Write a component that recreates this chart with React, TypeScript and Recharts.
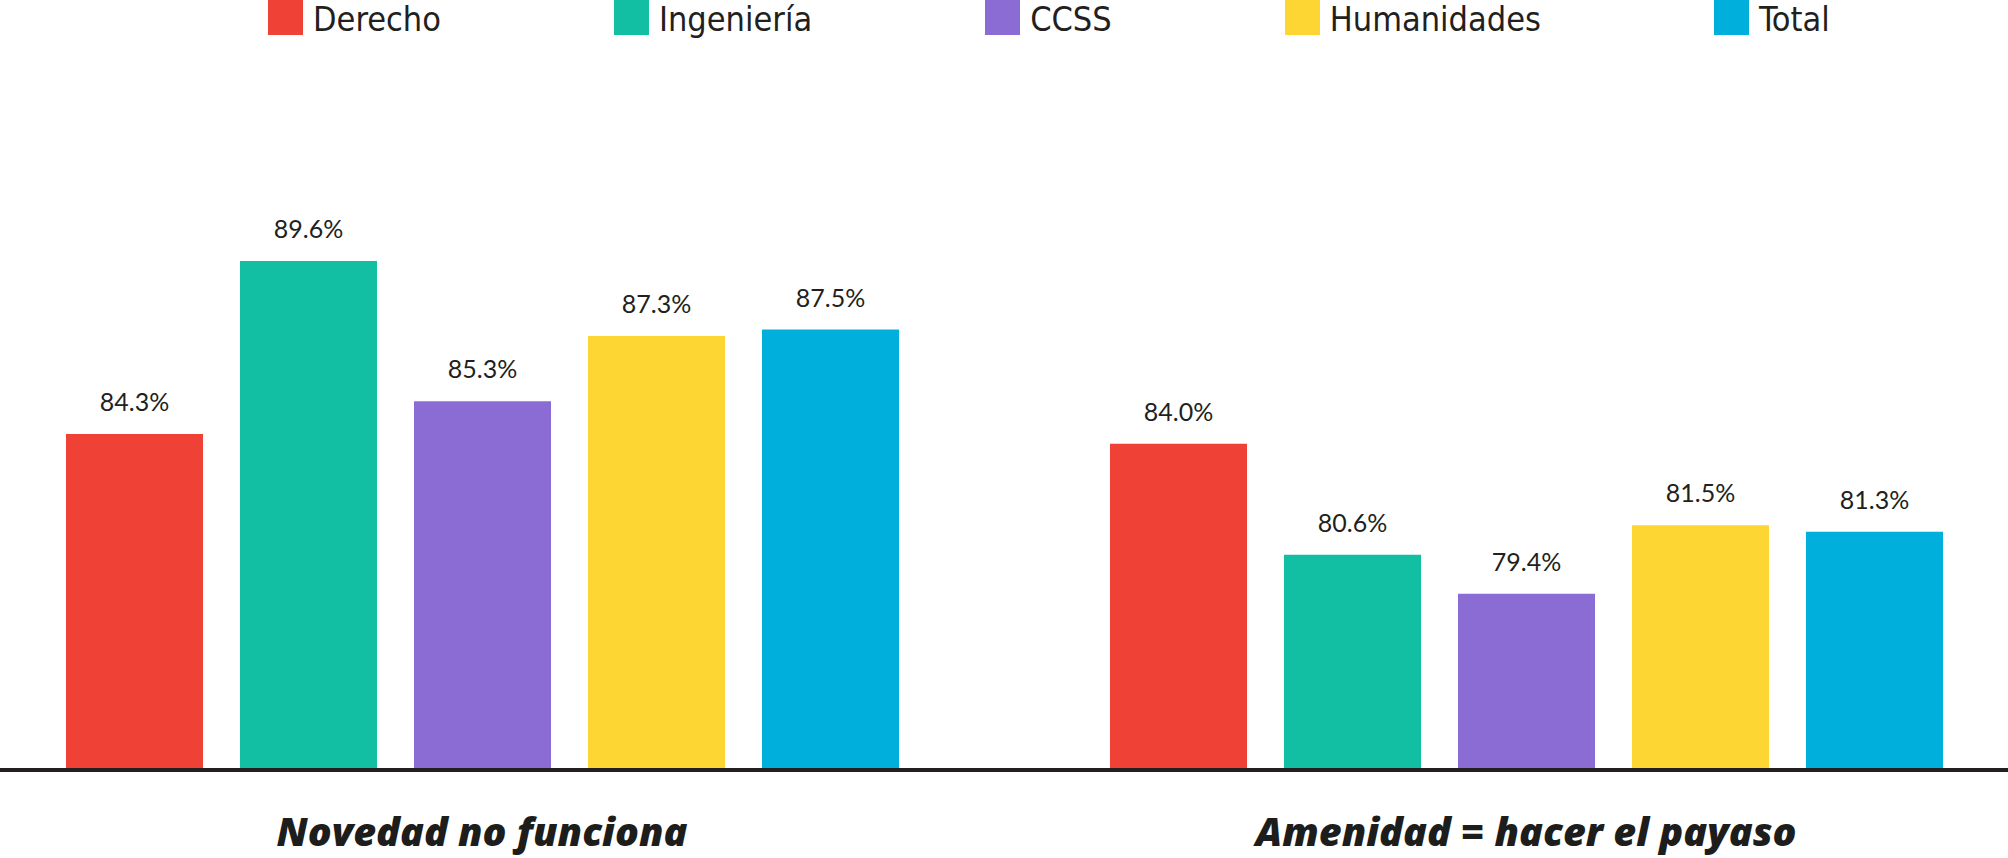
import React from 'react';
import { BarChart, Bar, XAxis, YAxis, Legend, LabelList } from 'recharts';

const categories = ['Novedad no funciona', 'Amenidad = hacer el payaso'];
const derecho = [84.3, 84.0];
const ingenieria = [89.6, 80.6];
const ccss = [85.3, 79.4];
const humanidades = [87.3, 81.5];
const total = [87.5, 81.3];

const seriesNames = ['Derecho', 'Ingeniería', 'CCSS', 'Humanidades', 'Total'];
const seriesKeys = ['derecho', 'ingenieria', 'ccss', 'humanidades', 'total'];
const seriesColors = ['#EF4136', '#12BFA2', '#8B6CD4', '#FED634', '#00AFDB'];

const data = categories.map((c, i) => ({
  name: c,
  derecho: derecho[i],
  ingenieria: ingenieria[i],
  ccss: ccss[i],
  humanidades: humanidades[i],
  total: total[i],
}));

const fmt = (v: any) => `${Number(v).toFixed(1)}%`;

const CategoryTick = (props: any) => {
  const { x, y, payload } = props;
  return (
    <text
      x={x}
      y={y}
      textAnchor="middle"
      fill="#1d1d1b"
      style={{ fontFamily: "'Open Sans', sans-serif", fontWeight: 800, fontStyle: 'italic', fontSize: 39.5 }}
    >
      {payload.value}
    </text>
  );
};

const LegendContent = () => (
  <div
    style={{
      display: 'flex',
      alignItems: 'flex-start',
      height: 40,
      paddingLeft: 268,
      boxSizing: 'border-box',
      fontFamily: "'DejaVu Sans Condensed', 'DejaVu Sans', sans-serif",
      fontStretch: 'condensed',
      fontSize: 34,
      color: '#231f20',
    }}
  >
    {seriesNames.map((n, i) => (
      <div key={n} style={{ display: 'flex', alignItems: 'flex-start', marginRight: i === seriesNames.length - 1 ? 0 : 173 }}>
        <div style={{ width: 35, height: 35, background: seriesColors[i], marginRight: 10 }} />
        <span style={{ lineHeight: '38px', whiteSpace: 'nowrap' }}>{n}</span>
      </div>
    ))}
  </div>
);

export default function App() {
  return (
    <div
      style={{
        position: 'absolute',
        left: 0,
        top: 0,
        width: 2008,
        height: 858,
        background: '#fff',
      }}
    >
      <BarChart
        width={2008}
        height={858}
        data={data}
        margin={{ top: 208, right: 0, bottom: 0, left: 0 }}
        barGap={37}
        barCategoryGap={105}
      >
        <Legend
          verticalAlign="top"
          align="left"
          content={<LegendContent />}
          wrapperStyle={{ top: 0, left: 0, width: 2008, height: 40 }}
        />
        <YAxis hide domain={[74, 90]} allowDataOverflow />
        <XAxis
          dataKey="name"
          height={88}
          tickLine={false}
          tickSize={0}
          tickMargin={76}
          padding={{ left: -40, right: -40 }}
          axisLine={{ stroke: '#231f20', strokeWidth: 4 }}
          tick={<CategoryTick />}
          interval={0}
        />
        {seriesKeys.map((k, i) => (
          <Bar key={k} dataKey={k} name={seriesNames[i]} fill={seriesColors[i]} barSize={137} isAnimationActive={false}>
            <LabelList
              dataKey={k}
              position="top"
              offset={23}
              formatter={fmt}
              style={{ fontFamily: "Lato, 'Open Sans', sans-serif", fontWeight: 400, fontSize: 25, fill: '#231f20' }}
            />
          </Bar>
        ))}
      </BarChart>
    </div>
  );
}
